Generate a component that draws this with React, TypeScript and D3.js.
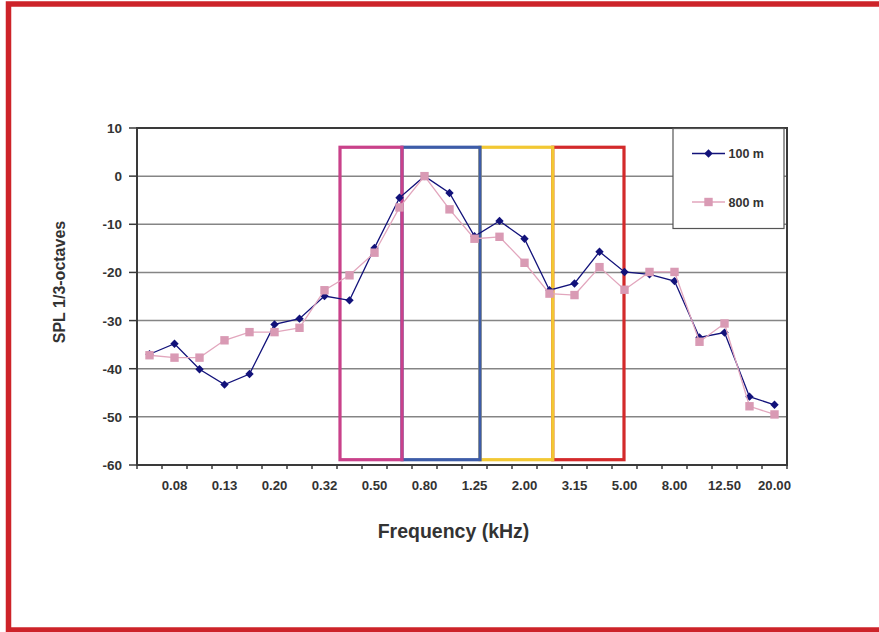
import React from "react";
import * as d3 from "d3";

const categories = ["0.06","0.08","0.10","0.13","0.16","0.20","0.25","0.32","0.40","0.50","0.63","0.80","1.00","1.25","1.60","2.00","2.50","3.15","4.00","5.00","6.30","8.00","10.00","12.50","16.00","20.00"];
const series100 = [-37.0,-34.8,-40.1,-43.3,-41.1,-30.8,-29.6,-24.9,-25.8,-14.9,-4.5,0,-3.5,-12.5,-9.3,-13.0,-23.7,-22.3,-15.7,-19.9,-20.4,-21.8,-33.5,-32.5,-45.8,-47.5];
const series800 = [-37.2,-37.7,-37.7,-34.1,-32.4,-32.4,-31.5,-23.7,-20.6,-15.9,-6.5,0,-6.9,-13.0,-12.6,-18.0,-24.4,-24.7,-18.9,-23.6,-19.9,-19.9,-34.4,-30.6,-47.8,-49.5];
const seriesNames = ["100 m", "800 m"];
const yTicks = [10, 0, -10, -20, -30, -40, -50, -60];
// band boxes: edges in category units, top/bottom values
const boxEdges = [8.12, 10.6, 13.72, 16.63, 19.48];
const boxTop = 6;
const boxBottom = -58.9;
const boxColors = ["#C9418A", "#3D5CA8", "#F2C833", "#D32A2B"];

export default function App() {
  const W = 879, H = 632;
  const left = 137, right = 787, top = 128, bottom = 465;
  const x = d3.scaleBand<string>().domain(categories).range([left, right]).padding(0);
  const xc = d3.scaleLinear().domain([0, categories.length]).range([left, right]);
  const y = d3.scaleLinear().domain([-60, 10]).range([bottom, top]);
  const cx = (i: number) => (x(categories[i]) as number) + x.bandwidth() / 2;
  const line = d3.line<number>().x((_, i) => cx(i)).y((d) => y(d));
  const font = "'Liberation Sans', Arial, sans-serif";
  const navy = "#12127A";
  const pink = "#E2A6BD";
  const pinkM = "#D99AB4";

  const diamond = (px: number, py: number, k: string | number) => (
    <path key={k} d={`M${px},${py - 4.2}L${px + 4.2},${py}L${px},${py + 4.2}L${px - 4.2},${py}Z`} fill={navy} />
  );
  const square = (px: number, py: number, k: string | number) => (
    <rect key={k} x={px - 4.2} y={py - 4.2} width={8.4} height={8.4} fill={pinkM} />
  );

  const boxes = boxColors.map((c, i) => ({ c, x0: boxEdges[i], x1: boxEdges[i + 1] })).reverse();

  return (
    <svg width={W} height={H} style={{ position: "absolute", left: 0, top: 0, background: "#fff" }} fontFamily={font}>
      <rect x={0} y={0} width={W} height={H} fill="#fff" />
      {/* outer red frame */}
      <rect x={8.5} y={4} width={W + 20} height={626} fill="none" stroke="#CD2329" strokeWidth={5.5} />
      {/* gridlines */}
      {yTicks.filter((t) => t !== 10 && t !== -60).map((t) => (
        <line key={t} x1={left} x2={right} y1={y(t)} y2={y(t)} stroke="#858585" strokeWidth={1.5} />
      ))}
      {/* plot frame */}
      <rect x={left} y={top} width={right - left} height={bottom - top} fill="none" stroke="#3a3a3a" strokeWidth={2} />
      {/* y ticks */}
      {yTicks.map((t) => (
        <g key={t}>
          <line x1={left - 8} x2={left} y1={y(t)} y2={y(t)} stroke="#3a3a3a" strokeWidth={1.5} />
          <text x={122} y={y(t) + 5} textAnchor="end" fontSize={13.5} fontWeight="bold" fill="#333">{t}</text>
        </g>
      ))}
      {/* x ticks */}
      {d3.range(categories.length + 1).map((i) => (
        <line key={i} x1={xc(i)} x2={xc(i)} y1={bottom} y2={bottom + 4} stroke="#3a3a3a" strokeWidth={1.5} />
      ))}
      {categories.map((c, i) => (i % 2 === 1 ? (
        <text key={c} x={cx(i)} y={490} textAnchor="middle" fontSize={13.2} fontWeight="bold" fill="#333">{c}</text>
      ) : null))}
      {/* band boxes */}
      {boxes.map((b) => (
        <rect key={b.c} x={xc(b.x0)} y={y(boxTop)} width={xc(b.x1) - xc(b.x0)} height={y(boxBottom) - y(boxTop)} fill="none" stroke={b.c} strokeWidth={3.2} />
      ))}
      {/* series 100 m */}
      <path d={line(series100) as string} fill="none" stroke={navy} strokeWidth={1.3} />
      {series100.map((v, i) => diamond(cx(i), y(v), "d" + i))}
      {/* series 800 m */}
      <path d={line(series800) as string} fill="none" stroke={pink} strokeWidth={1.3} />
      {series800.map((v, i) => square(cx(i), y(v), "s" + i))}
      {/* legend */}
      <rect x={673} y={128.5} width={111} height={100} fill="#fff" stroke="#555" strokeWidth={1.2} />
      <line x1={692} x2={725} y1={153.5} y2={153.5} stroke={navy} strokeWidth={1.3} />
      {diamond(708.5, 153.5, "ld")}
      <text x={728.5} y={158} fontSize={12.5} fontWeight="bold" fill="#333">{seriesNames[0]}</text>
      <line x1={692} x2={725} y1={202} y2={202} stroke={pink} strokeWidth={1.3} />
      {square(708.5, 202, "ls")}
      <text x={728.5} y={206.5} fontSize={12.5} fontWeight="bold" fill="#333">{seriesNames[1]}</text>
      {/* axis titles */}
      <text transform={`translate(65,282) rotate(-90)`} textAnchor="middle" fontSize={16} fontWeight="bold" fill="#333">SPL 1/3-octaves</text>
      <text x={453.5} y={538} textAnchor="middle" fontSize={19.5} fontWeight="bold" fill="#333">Frequency (kHz)</text>
    </svg>
  );
}
